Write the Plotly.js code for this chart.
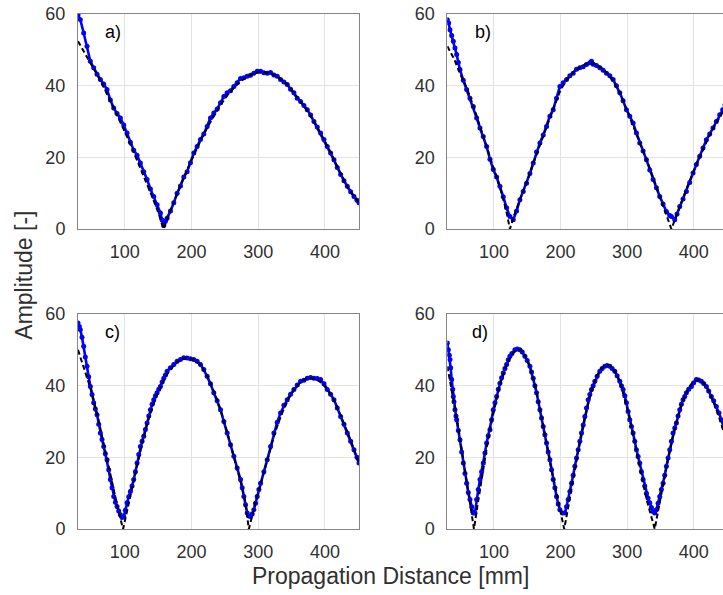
<!DOCTYPE html>
<html>
<head>
<meta charset="utf-8">
<script src="https://cdn.plot.ly/plotly-3.0.1.min.js"></script>
<style>
html, body { margin: 0; padding: 0; overflow: hidden; background: #fff; }
#chart { width: 730px; height: 595px; }
</style>
</head>
<body>
<div id="chart"></div>
<script>
// ---- data ----
const xTicks = [100, 200, 300, 400];
const yTicks = [0, 20, 40, 60];
const panelLabels = ['a)', 'b)', 'c)', 'd)'];
const xTitle = 'Propagation Distance [mm]';
const yTitle = 'Amplitude [-]';

// panel a
const distA = [30,33.5,38.5,43.5,48.5,53.5,58.5,63.5,68.5,73.5,78.5,83.5,88.5,93.5,98.5,103.5,108.5,113.5,118.5,123.5,128.5,133.5,138.5,143.5,148.5,153.5,156,158.5,161,163.5,168.5,173.5,178.5,183.5,188.5,193.5,198.5,203.5,208.5,213.5,218.5,223.5,228.5,233.5,238.5,243.5,248.5,253.5,258.5,263.5,268.5,273.5,278.5,283.5,288.5,293.5,298.5,303.5,308.5,313.5,318.5,323.5,328.5,333.5,338.5,343.5,348.5,353.5,358.5,363.5,368.5,373.5,378.5,383.5,388.5,393.5,398.5,403.5,408.5,413.5,418.5,423.5,428.5,433.5,438.5,443.5,448,451];
const ampA = [59.8,58.4,54.7,51,46.8,45,43.2,41.7,40.5,38.9,36,33.8,32.2,31,29,26.8,24.2,22,20.6,18.4,16,13.8,11.2,9.1,6.8,4.5,2.5,1,2.2,3,5,7.3,10,12,14.5,16,18.5,21.2,23,25,26.5,28.6,31,32.4,33.5,35.2,37,38,38.6,39.8,40.8,42,42.2,42.6,42.9,43.5,44,44,43.6,43.5,43.7,43,42.6,41.7,41,40.3,39,38,36.5,35.6,34.5,33.3,31.8,30,28.5,26.8,25,23,21.2,19.3,17.2,15.2,13.5,11.9,10.4,9.1,8,7.3];
const fitDistA = [30,40,50,60,70,80,90,100,110,120,130,140,150,158,165,175,185,195,205,215,225,235,245,255,265,275,285,295,305,315,325,335,345,355,365,375,385,395,405,415,425,435,445,451];
const fitA = [52.4,49.2,46,42.6,39,35.2,31.2,27.2,23,18.6,14.1,9.5,4.8,0,3.4,8.2,12.8,17.2,21.3,25.2,28.8,32.1,35,37.6,39.7,41.4,42.7,43.5,43.8,43.6,42.9,41.7,40,37.7,35.2,32.6,29.6,26.3,22.7,18.8,14.8,11.3,8.6,7.2];

// panel b
const distB = [30,32,34,36.5,39,41.5,44,46.5,49,54,59,64,69,74,79,84,89,94,99,104,109,114,119,124,129,134,139,144,149,154,159,164,169,174,179,184,189,194,199,204,209,214,219,224,229,234,239,244,246.5,249,254,259,264,269,274,279,284,289,294,299,304,309,314,319,324,329,334,339,344,349,354,359,364,366.5,371.5,375,379,384,389,394,399,404,409,414,419,424,429,434,439,443.5,447,451];
const ampB = [58.4,57.5,55.6,54,52.4,50.5,48.7,46.5,44.5,41.5,38.9,36.5,34.2,31,28.2,25.8,23,19.5,16.6,14.5,11.9,9,5.9,3.5,2.6,5,8.2,10.5,12.8,15.5,18.4,21.5,24,26.2,28.6,31.5,33.3,36.5,39.8,40.8,41.7,42.8,43.5,44.6,45,45.3,45.9,46.4,46.8,46,45.6,45,44.3,43.5,42.8,41.7,40,38,35.8,33.3,31.5,29.6,26.8,24,21.8,19.3,16.5,13.8,11.5,9.1,7,4.9,3.8,3.5,2.6,4.2,6.3,8.4,10.5,13,15.6,18,20.3,22.6,24.9,26.5,28.2,30,31.9,33.3,34.6,35.8];
const fitDistB = [30,40,50,60,70,80,90,100,110,118,124,131,140,150,160,170,180,190,200,210,220,230,240,250,260,270,280,290,300,310,320,330,340,350,360,366.5,373,380,390,400,410,420,430,440,451];
const fitB = [51,47.5,43,39,33.8,28.2,22.6,16.8,11,5.5,0,4.2,8.5,13.5,18.8,24,29,34,38.8,41.8,43.8,45.3,46.2,46.2,45.2,43.5,41,37.6,33,28.5,23.8,19,13.8,8.8,3.6,0,3.2,6.8,11.6,16.2,20.6,24.6,28.3,31.6,35];

// panel c
const distC = [30,32,33.5,36,38.5,41,43.5,46,48.5,51,53.5,56,58.5,61,63.5,66,68.5,71,73.5,76,78.5,81,83.5,86,88.5,91,93.5,96,98.5,101,103.5,106,108.5,111,113.5,116,118.5,121,123.5,126,128.5,131,133.5,136,138.5,141,143.5,146,148.5,151,153.5,156,158.5,161,163.5,168.5,173.5,178.5,183.5,188.5,193.5,198.5,203.5,208.5,213.5,218.5,223.5,228.5,233.5,238.5,243.5,248.5,253.5,258.5,263.5,268.5,273.5,276,278.5,281,283.5,286,288.5,291,293.5,296,298.5,301,303.5,308.5,313.5,318.5,323.5,328.5,333.5,338.5,343.5,348.5,353.5,358.5,363.5,368.5,373.5,378.5,383.5,388.5,393.5,398.5,403.5,408.5,413.5,418.5,423.5,428.5,433.5,438.5,443.5,448,451];
const ampC = [57.5,56.5,55.6,53.5,51,48,45.4,42.5,39.8,37.5,35.2,33.5,31.9,29.2,26.8,25,23,21,19.3,16.5,13.8,11.5,9.1,7.5,6.3,5,4,3.2,3.5,5.2,7.3,9,10.5,12,13.8,16,18.4,20.8,23,24.5,25.9,27.8,29.6,31.5,33.3,34.8,36.1,37.2,38,39,39.8,41,42.1,43,44,45,45.9,46.8,47.3,47.8,47.7,47.5,47.3,46.8,45.9,44.5,42.6,40.5,38,35.8,33.3,30,26.8,23.5,20.3,17,13.8,11.5,9.1,6.8,4.5,3.6,3.5,4.2,5.4,7.2,9.1,11,12.8,16,19.3,23,26.8,29.8,32.4,34.5,36.1,37.6,38.9,40.2,41.2,41.5,42.1,42.3,42.1,42,41.7,40.5,38.9,37.6,36.1,33.8,31.4,29.2,26.8,24.5,22.1,20,18.4];
const fitDistC = [30,40,50,60,70,80,90,97.5,105,115,125,135,145,155,165,175,185,195,205,215,225,235,245,255,265,275,280,286,295,305,315,325,335,345,355,365,375,385,395,405,415,425,435,445,451];
const fitC = [50,44.5,38.5,31,22.5,13.5,5.5,0,6.5,15,23,30.3,35.8,40.2,43.6,46,47.4,47.8,47.1,45.5,42.2,37.8,32.3,26,19.3,12.2,8.2,0,6.8,13.5,20.3,26.8,32,36.2,39.3,41.3,42.2,42,40.8,38.6,35.4,31.2,26.5,21.4,18];

// panel d
const distD = [30,31.5,33,34,35,36.5,38,39,40,41.5,43,44,46.5,49,51.5,54,56.5,59,61.5,64,66.5,69,71.5,74,76.5,79,81.5,84,86.5,89,91.5,94,96.5,99,101.5,104,106.5,109,111.5,114,116.5,119,121.5,124,127,131.5,135,139,142.5,146.5,150,154,156.5,159,161.5,164,166.5,169,171.5,174,176.5,179,181.5,184,186.5,189,191.5,194,196.5,199,203,206.5,209,211.5,214,216.5,219,221.5,224,226.5,229,231.5,234,236.5,239,241.5,244,246.5,249,251.5,255,259,262.5,266.5,270,274,277.5,281.5,285,289,291.5,294,296.5,299,301.5,304,306.5,309,311.5,314,316.5,319,321.5,324,326.5,329,331.5,334,336.5,339,341.5,344,346.5,349,351.5,354,356.5,359,361.5,364,366.5,369,371.5,374,376.5,379,381.5,384,386.5,389,392.5,396.5,400,404,407.5,411.5,415,419,422.5,426.5,430,434,438,441.5,445,448,451];
const ampD = [51.9,50,48.5,47.3,45,41.7,39,37,35.5,33.3,31.5,30.5,27.5,24.9,21.5,18.4,15.5,12.8,10.2,8.2,6.2,4.5,4.5,8.2,11,13.8,16,18.4,21.2,24,26,27.7,30.5,33.3,35.2,37,39,40.7,42.2,43.5,44.8,45.9,47.2,48.2,49,50,50.2,50,49.4,48.2,47,45.4,43.8,42.1,40,38,35.5,33.3,31,28.6,26.3,24,21.5,19.3,16.5,13.8,11.5,9.1,7,5.4,4.5,4.5,6.2,8.2,10.5,12.8,15,17.5,19.8,22.1,24.5,26.8,29,31.4,33.8,36.1,37.5,38.9,40,41.2,42.6,44,44.8,45.4,45.6,45.4,44.8,44,42.8,41.2,40,38.9,37.2,35.2,32.8,30.5,28.6,26.8,24.5,22.1,20.2,18.4,16,13.8,12,10,8.6,7.3,6,4.9,4.5,5.4,7.2,9.1,11,12.8,15,17.5,19.8,22.1,24.5,26.8,28.2,29.6,31.5,33.3,34.8,36.1,37,38,39,39.8,40.8,41.7,41.6,41.2,40.6,39.8,38.5,37,35.8,34.2,32.4,30.5,28.5,26.5,24.5];
const fitDistD = [30,35,40,45,50,55,60,65,70,75,80,85,90,95,100,105,110,115,120,125,130,135,140,145,150,155,160,165,170,175,180,185,190,195,200,205.5,211,216,221,226,231,236,241,246,251,256,261,266,271,276,281,286,291,296,301,306,311,316,321,326,331,336,341.5,347,352,357,362,367,372,377,382,387,392,397,402,407,412,417,422,427,432,437,442,447,451];
const fitD = [45.4,40.5,35.5,30,24,17.8,11.8,5.9,0,6.2,12.3,18.2,23.6,28.6,33.2,37.2,40.8,43.8,46.2,48,49.3,50,50,49,47.2,44.6,41.4,37.4,32.8,27.9,22.9,17.8,13.2,8.8,4.5,0,5.5,11,16.5,21.6,26.4,30.8,34.8,38.2,41,43.2,44.7,45.5,45.7,45.3,44.2,42.4,40,36.8,33,28.8,24.2,19.6,15.3,11,7,3.4,0,5.5,10.6,15.4,20,24.4,28.3,31.8,34.8,37.3,39.2,40.6,41.4,41.6,41.2,40.2,38.7,36.7,34.4,31.8,29,26,23.5];

// ---- chart ----
const FONT = 'Liberation Sans, Arial, Helvetica, sans-serif';
const TEXT = '#303030';

const panels = [
  {x: distA, y: ampA, fx: fitDistA, fy: fitA, xa: 'x',  ya: 'y',  label: panelLabels[0], lx: 68},
  {x: distB, y: ampB, fx: fitDistB, fy: fitB, xa: 'x2', ya: 'y2', label: panelLabels[1], lx: 68},
  {x: distC, y: ampC, fx: fitDistC, fy: fitC, xa: 'x3', ya: 'y3', label: panelLabels[2], lx: 68},
  {x: distD, y: ampD, fx: fitDistD, fy: fitD, xa: 'x4', ya: 'y4', label: panelLabels[3], lx: 64}
];

const traces = [];
const annotations = [];
panels.forEach(p => {
  traces.push({
    x: p.x, y: p.y, xaxis: p.xa, yaxis: p.ya,
    type: 'scatter', mode: 'lines+markers',
    line: {color: '#0000ff', width: 2.6},
    marker: {color: '#0000ff', size: 5},
    hoverinfo: 'skip', showlegend: false
  });
  traces.push({
    x: p.fx, y: p.fy, xaxis: p.xa, yaxis: p.ya,
    type: 'scatter', mode: 'lines',
    line: {color: '#000000', width: 2, dash: '5px,3px'},
    hoverinfo: 'skip', showlegend: false
  });
  annotations.push({
    xref: p.xa, yref: p.ya, x: p.lx, y: 55,
    xanchor: 'left', yanchor: 'middle', showarrow: false,
    text: p.label, font: {family: FONT, size: 18, color: '#000'}
  });
});

annotations.push({
  xref: 'paper', yref: 'paper', x: -0.083, y: 0.492,
  xanchor: 'center', yanchor: 'middle', textangle: -90, showarrow: false,
  text: yTitle, font: {family: FONT, size: 23, color: TEXT}
});
annotations.push({
  xref: 'paper', yref: 'paper', x: 0.4815, y: -0.092,
  xanchor: 'center', yanchor: 'middle', showarrow: false,
  text: xTitle, font: {family: FONT, size: 23, color: TEXT}
});

function xAxis(domain, anchor) {
  return {
    domain: domain, anchor: anchor, range: [30, 451.5],
    tickvals: xTicks, ticktext: xTicks.map(String),
    showgrid: true, gridcolor: '#e3e3e3', gridwidth: 1,
    showline: true, mirror: true, linecolor: '#858585', linewidth: 1,
    ticks: 'outside', ticklen: 6, tickcolor: 'rgba(0,0,0,0)',
    tickfont: {family: FONT, size: 18, color: TEXT},
    zeroline: false, fixedrange: true
  };
}
function yAxis(domain, anchor) {
  return {
    domain: domain, anchor: anchor, range: [0, 60],
    tickvals: yTicks, ticktext: yTicks.map(String),
    showgrid: true, gridcolor: '#e3e3e3', gridwidth: 1,
    showline: true, mirror: true, linecolor: '#858585', linewidth: 1,
    ticks: 'outside', ticklen: 8, tickcolor: 'rgba(0,0,0,0)',
    tickfont: {family: FONT, size: 18, color: TEXT},
    zeroline: false, fixedrange: true
  };
}

const domLeft = [0, 0.4328], domRight = [0.5682, 1];
const domTop = [0.5825, 1], domBottom = [0, 0.4175];

const layout = {
  width: 730, height: 595,
  margin: {l: 78, r: 2, t: 14, b: 66},
  paper_bgcolor: '#ffffff', plot_bgcolor: '#ffffff',
  showlegend: false,
  xaxis: xAxis(domLeft, 'y'),    yaxis: yAxis(domTop, 'x'),
  xaxis2: xAxis(domRight, 'y2'), yaxis2: yAxis(domTop, 'x2'),
  xaxis3: xAxis(domLeft, 'y3'),  yaxis3: yAxis(domBottom, 'x3'),
  xaxis4: xAxis(domRight, 'y4'), yaxis4: yAxis(domBottom, 'x4'),
  annotations: annotations
};

Plotly.newPlot('chart', traces, layout, {displayModeBar: false, staticPlot: true});
</script>
</body>
</html>
